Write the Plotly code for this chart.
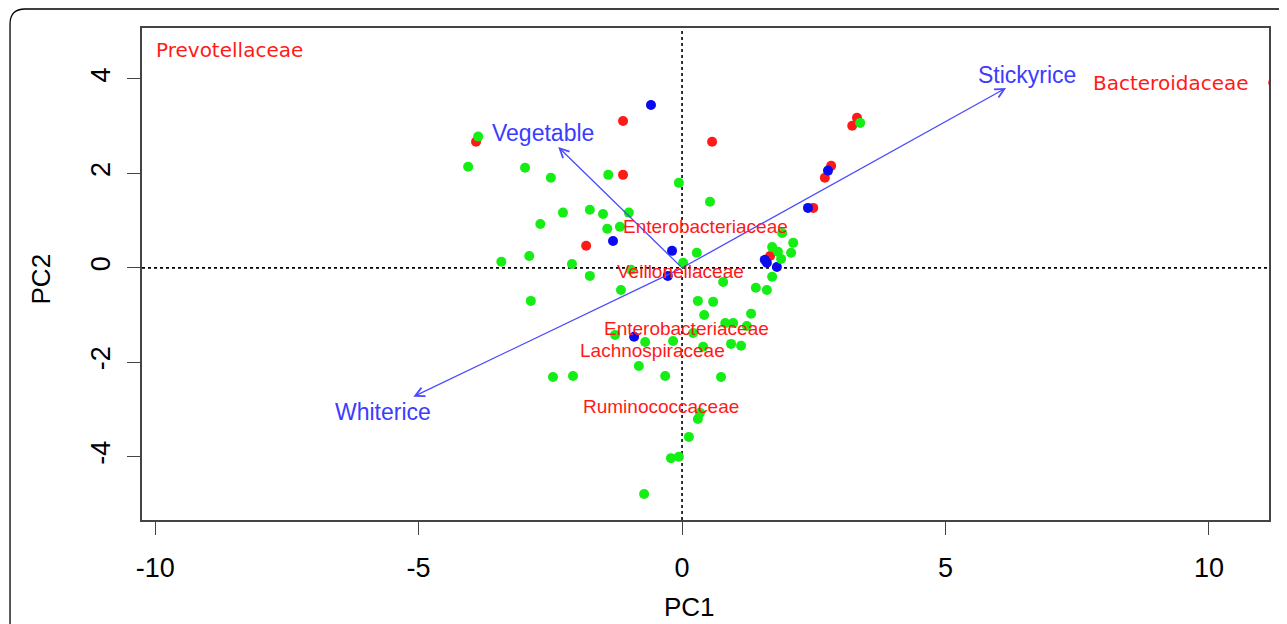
import plotly.graph_objects as go

# ---- data ----
green_x = [-3.87, -4.06, -2.98, -2.49, -1.40, -0.06, 0.53, -2.26, -1.75, -1.50,
           -1.01, -2.69, -1.42, -1.18, -3.43, -2.90, -2.09, -1.75, -0.97, -1.16,
           -2.87, 0.28, 0.02, 3.38, 1.90, 2.11, 2.07, 1.71, 1.82, 1.88,
           1.71, 0.78, 1.40, 1.61, 0.30, 0.59, 0.42, 1.31, 0.82, 0.97,
           1.23, 0.21, -0.17, -1.27, -0.70, 0.93, 1.12, 0.40, -0.82, -2.45,
           -2.07, -0.32, 0.74, 0.34, 0.30, 0.13, -0.21, -0.06, -0.72]
green_y = [2.78, 2.14, 2.12, 1.91, 1.97, 1.80, 1.40, 1.17, 1.23, 1.14,
           1.17, 0.93, 0.83, 0.87, 0.13, 0.25, 0.08, -0.17, -0.04, -0.47,
           -0.70, 0.32, 0.11, 3.07, 0.74, 0.53, 0.32, 0.44, 0.34, 0.19,
           -0.19, -0.30, -0.42, -0.47, -0.70, -0.72, -1.00, -0.97, -1.17, -1.17,
           -1.23, -1.38, -1.55, -1.42, -1.57, -1.61, -1.65, -1.67, -2.08, -2.31,
           -2.29, -2.29, -2.31, -3.07, -3.20, -3.58, -4.03, -4.00, -4.79]

red_x = [-3.91, -1.12, -1.12, -1.82, 0.57, 3.32, 3.23, 2.83, 2.71, 2.49, 1.67, -10.35, 11.22]
red_y = [2.67, 3.11, 1.97, 0.47, 2.67, 3.18, 3.01, 2.16, 1.91, 1.27, 0.25, 4.51, 3.92]

blue_x = [-0.59, -1.31, -0.19, -0.27, 2.77, 2.39, 1.57, 1.61, 1.80, -0.91]
blue_y = [3.45, 0.57, 0.36, -0.17, 2.06, 1.27, 0.17, 0.11, 0.02, -1.46]

arrow_names = ["Stickyrice", "Whiterice", "Vegetable"]
arrow_x = [6.15, -5.10, -2.35]
arrow_y = [3.81, -2.73, 2.56]
arrow_label_x = [6.55, -5.67, -2.64]
arrow_label_y = [4.09, -3.05, 2.86]

taxa_names = ["Enterobacteriaceae", "Veillonellaceae", "Enterobacteriaceae",
              "Lachnospiraceae", "Ruminococcaceae"]
taxa_x = [0.44, -0.03, 0.09, -0.57, -0.40]
taxa_y = [0.87, -0.08, -1.29, -1.74, -2.94]

edge_names = ["Prevotellaceae", "Bacteroidaceae"]
edge_x = [-8.58, 9.28]
edge_y = [4.62, 3.92]

x_ticks = [-10, -5, 0, 5, 10]
y_ticks = [-4, -2, 0, 2, 4]
x_range = [-10.25, 11.14]
y_range = [-5.34, 5.08]

GREEN = "#14ee14"
RED = "#ff1a1a"
BLUE = "#0b0bee"
ARROW = "#4a4aff"
LABEL_BLUE = "#3c3cff"

fig = go.Figure()
for xs, ys, col in [(red_x, red_y, RED), (blue_x, blue_y, BLUE), (green_x, green_y, GREEN)]:
    fig.add_trace(go.Scatter(x=xs, y=ys, mode="markers",
                             marker=dict(color=col, size=10, line=dict(width=0)),
                             showlegend=False, hoverinfo="skip"))

# zero reference lines
fig.add_shape(type="line", xref="x", yref="paper", x0=0, x1=0, y0=0, y1=1,
              line=dict(color="black", width=1.6, dash="dot"), layer="below")
fig.add_shape(type="line", xref="paper", yref="y", x0=0, x1=1, y0=0, y1=0,
              line=dict(color="black", width=1.6, dash="dot"), layer="below")

# outer rounded frame
fig.add_shape(type="path", xref="paper", yref="paper",
              path="M -0.1171,-0.25 L -0.1171,1.0081 Q -0.1171,1.0386 -0.1038,1.0386 L 1.03,1.0386",
              line=dict(color="black", width=1.3))

# arrows
for nm, ax_, ay_, lx, ly in zip(arrow_names, arrow_x, arrow_y, arrow_label_x, arrow_label_y):
    fig.add_annotation(x=ax_, y=ay_, ax=0, ay=0, xref="x", yref="y", axref="x", ayref="y",
                       showarrow=True, arrowhead=5, arrowsize=1.4, arrowwidth=1.3,
                       arrowcolor=ARROW, text="")
    fig.add_annotation(x=lx, y=ly, xref="x", yref="y", text=nm, showarrow=False,
                       font=dict(family="Liberation Sans", size=23, color=LABEL_BLUE))

for nm, tx, ty in zip(taxa_names, taxa_x, taxa_y):
    fig.add_annotation(x=tx, y=ty, xref="x", yref="y", text=nm, showarrow=False,
                       font=dict(family="Liberation Sans", size=19, color=RED))

for nm, tx, ty in zip(edge_names, edge_x, edge_y):
    fig.add_annotation(x=tx, y=ty, xref="x", yref="y", text=nm, showarrow=False,
                       font=dict(family="DejaVu Sans", size=20, color=RED))

# axis titles
fig.add_annotation(x=0.486, y=-0.177, xref="paper", yref="paper", text="PC1",
                   showarrow=False, yanchor="middle",
                   font=dict(family="Liberation Sans", size=26, color="black"))
fig.add_annotation(x=-0.09, y=0.49, xref="paper", yref="paper", text="PC2",
                   showarrow=False, textangle=-90, xanchor="center",
                   font=dict(family="Liberation Sans", size=26, color="black"))

axis_common = dict(showgrid=False, zeroline=False, showline=True, mirror=True,
                   linecolor="#444444", linewidth=1.6, ticks="outside", ticklen=13,
                   tickwidth=1.4, tickcolor="#444444",
                   tickfont=dict(family="Liberation Sans", size=27, color="black"))

fig.update_xaxes(range=x_range, tickvals=x_ticks, ticktext=[str(v) for v in x_ticks],
                 ticklabelstandoff=10, **axis_common)
fig.update_yaxes(range=y_range, tickvals=y_ticks, ticktext=[str(v) for v in y_ticks],
                 tickangle=-90, ticklabelstandoff=6, **axis_common)

# the page body has an 8px margin, so the figure is sized to fit the window
fig.update_layout(width=1279, height=616, margin=dict(l=134, r=18, t=20, b=104),
                  paper_bgcolor="white", plot_bgcolor="white",
                  font=dict(family="Liberation Sans"))

fig.write_html("out.html")
